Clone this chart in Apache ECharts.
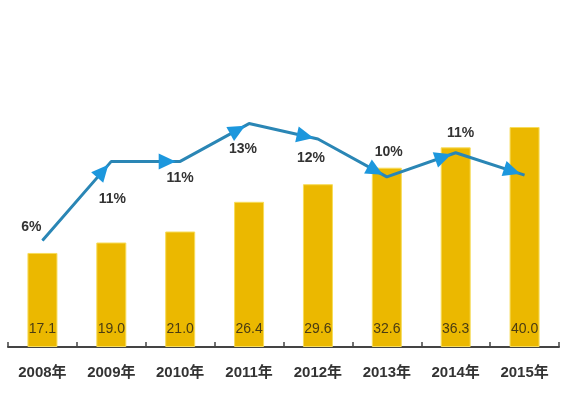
<!DOCTYPE html>
<html><head><meta charset="utf-8">
<script src="https://cdn.jsdelivr.net/npm/echarts@6/dist/echarts.min.js"></script>
<style>html,body{margin:0;padding:0;background:#fff}#c{width:570px;height:395px}</style>
</head><body><div id="c"></div>
<script>
const categories = ['2008年','2009年','2010年','2011年','2012年','2013年','2014年','2015年'];
const barValues = [17.1, 19.0, 21.0, 26.4, 29.6, 32.6, 36.3, 40.0];
const growthValues = [6.2, 10.8, 10.8, 13.0, 12.1, 9.9, 11.3, 10.0];
const growthLabels = ['6%','11%','11%','13%','12%','10%','11%',''];

const labelOffsets = [[-11,-13],[1,38],[0,17],[-6,26],[-7,19],[2,-25],[5,-20],[0,0]];
const FONT = "Arial, 'Liberation Sans', 'Noto Sans CJK SC', sans-serif";

const chart = echarts.init(document.getElementById('c'), null, {renderer:'canvas'});

function lineData(pts){
  return growthValues.map((v,i)=>{
    let so = [0,0];
    const item = {value: v};
    if (i === 0) { item.symbolSize = 1; }
    else if (pts) {
      const dx = pts[i][0]-pts[i-1][0], dy = pts[i][1]-pts[i-1][1];
      const L = Math.hypot(dx, dy);
      item.symbolRotate = Math.atan2(-dx, -dy) * 180 / Math.PI;
      so = [-dx/L*13, -dy/L*13];
      item.symbolOffset = so;
    }
    item.label = {
      show: growthLabels[i] !== '',
      position: 'inside',
      offset: [labelOffsets[i][0]-so[0], labelOffsets[i][1]-so[1]],
      formatter: growthLabels[i],
      fontSize: 14, fontWeight: 'bold', color: '#333', fontFamily: FONT
    };
    return item;
  });
}

const option = {
  backgroundColor: '#fff',
  animation: false,
  grid: {left: 8, right: 11, top: 72, bottom: 48, containLabel: false},
  xAxis: {
    type: 'category', data: categories, boundaryGap: true,
    axisLine: {lineStyle: {color: '#444', width: 2}},
    axisTick: {show: true, inside: true, length: 5, lineStyle: {color: '#444', width: 1.5}},
    axisLabel: {margin: 18, fontSize: 15, fontWeight: 'bold', color: '#333', fontFamily: FONT}
  },
  yAxis: [
    {type: 'value', min: 0, max: 50, show: false, splitLine: {show: false}},
    {type: 'value', min: 0, max: 16, show: false, splitLine: {show: false}}
  ],
  series: [
    {
      type: 'bar', data: barValues, barWidth: 30, yAxisIndex: 0,
      itemStyle: {color: '#EBB800', borderColor: '#F7DC5A', borderWidth: 1},
      label: {show: true, position: 'insideBottom', distance: 11, fontSize: 14,
        color: '#4a3c12', fontFamily: FONT, formatter: p => p.value.toFixed(1)}
    },
    {
      type: 'line', yAxisIndex: 1, data: lineData(null), z: 5,
      symbol: 'triangle', symbolSize: [16, 17],
      lineStyle: {color: '#2A86B5', width: 3},
      itemStyle: {color: '#1C97DD'}
    }
  ]
};
chart.setOption(option);
const pts = growthValues.map((v,i)=>chart.convertToPixel({seriesIndex:1},[i,v]));
chart.setOption({series: [{}, {data: lineData(pts)}]});
</script></body></html>
